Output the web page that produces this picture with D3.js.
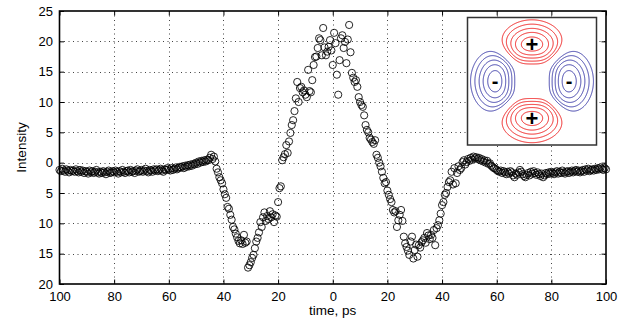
<!DOCTYPE html>
<html>
<head>
<meta charset="utf-8">
<script src="https://cdn.jsdelivr.net/npm/d3@7"></script>
<style>
  html, body { margin: 0; padding: 0; background: #fff; }
  svg { display: block; font-family: "Liberation Sans", Arial, Helvetica, sans-serif; }
</style>
</head>
<body>
<svg id="chart" width="630" height="325"></svg>
<script>
// tick values and the labels as printed (minus signs are missing in the original figure)
const xTicks = [-100, -80, -60, -40, -20, 0, 20, 40, 60, 80, 100];
const xTickLabels = ['100', '80', '60', '40', '20', '0', '20', '40', '60', '80', '100'];
const yTicks = [-20, -15, -10, -5, 0, 5, 10, 15, 20, 25];
const yTickLabels = ['20', '15', '10', '5', '0', '5', '10', '15', '20', '25'];

// samples every 0.5 ps from -100 ps
const timeStart = -100;
const timeStep = 0.5;
const intensity = [
  -1.2,-1.4,-1.0,-1.3,-1.5,-1.1,-1.3,-1.6,-1.2,-1.4,
  -1.3,-1.5,-1.1,-1.4,-1.6,-1.2,-1.5,-1.3,-1.7,-1.4,
  -1.5,-1.8,-1.3,-1.6,-1.4,-1.7,-1.5,-1.2,-1.6,-1.8,
  -1.5,-1.7,-1.4,-1.6,-1.9,-1.5,-1.3,-1.7,-1.6,-1.4,
  -1.6,-1.3,-1.5,-1.8,-1.4,-1.6,-1.2,-1.5,-1.7,-1.4,
  -1.3,-1.6,-1.2,-1.5,-1.4,-1.7,-1.3,-1.1,-1.5,-1.4,
  -1.2,-1.5,-1.3,-1.0,-1.4,-1.6,-1.2,-1.3,-1.5,-1.1,
  -1.3,-1.1,-1.4,-1.2,-1.0,-1.3,-1.5,-1.1,-1.2,-0.9,
  -1.1,-1.3,-0.9,-1.2,-1.0,-0.8,-1.1,-0.9,-0.7,
  -0.8,-0.6,-0.9,-0.5,-0.7,-0.4,-0.6,-0.3,-0.5,-0.2,
  -0.3,0.0,-0.2,0.2,0.0,0.3,0.1,0.4,0.2,0.5,
  0.4,0.8,1.3,0.6,1.0,
  0.2,-1.0,-1.6,-2.4,-2.9,-3.4,-4.4,-5.2,-5.8,-7.3,
  -7.6,-8.6,-9.4,-10.6,-11.0,-11.7,-12.3,-12.9,-13.3,-12.8,
  -13.4,-11.9,-13.2,-13.0,
  -17.3,-16.9,-16.4,-15.7,-15.2,-14.1,-13.0,-12.4,-11.5,-9.8,
  -10.6,-9.0,-8.2,-9.6,-8.8,-9.3,-8.0,-9.0,-8.5,-9.8,
  -8.7,-8.9,
  -6.5,-4.2,-3.9,0.4,0.9,1.4,2.9,1.6,3.5,4.9,
  6.2,7.0,8.5,10.6,13.3,10.0,12.3,12.5,11.6,11.9,
  11.2,10.8,15.3,11.8,11.6,13.6,16.1,17.4,17.5,18.9,
  20.5,20.2,17.7,22.2,19.0,17.7,18.3,19.1,20.2,18.5,
  16.1,21.4,19.7,14.5,11.2,16.9,20.5,21.0,18.9,19.9,
  16.4,20.3,22.7,18.2,14.8,14.0,13.3,13.6,12.5,10.8,
  10.0,9.5,9.2,7.8,6.2,5.4,5.0,4.1,3.8,3.4,
  3.1,3.7,1.3,0.8,0.0,-0.6,-1.5,-2.5,-3.4,-3.2,
  -4.6,-5.3,-6.0,-6.5,-7.8,-8.2,-8.0,-10.6,-9.5,-8.6,
  -7.8,-9.6,-12.2,-13.3,-13.9,-14.5,-15.2,-13.0,-12.2,-15.8,
  -14.4,-13.5,-15.5,-13.6,-14.0,-13.1,-12.8,-12.4,-13.2,-11.6,
  -12.0,-12.6,-11.9,-12.4,-11.1,-13.6,-10.8,-10.3,-9.5,-8.4,
  -7.0,-6.5,-5.3,-5.0,-4.0,-3.2,-2.9,-1.5,-3.6,-0.9,
  -3.4,-1.7,-0.6,-1.2,-0.9,0.1,0.4,-0.3,0.1,0.6,
  0.3,0.8,0.5,1.0,0.7,0.9,0.6,0.8,0.4,0.6,
  0.2,0.4,0.0,0.3,-0.2,-0.1,-0.5,-0.7,-0.9,-1.0,
  -1.2,-1.4,
  -1.5,-1.3,-1.7,-1.4,-1.6,-1.9,-1.5,-1.8,-1.4,-1.6,
  -2.1,-2.4,-1.8,-2.0,-1.6,-1.2,-1.5,-1.9,-2.2,-2.4,
  -2.0,-1.7,-2.1,-1.5,-1.8,-1.4,-1.7,-2.0,-1.6,-1.9,
  -2.2,-1.8,-2.4,-2.1,-1.7,-1.9,-1.6,-1.8,-1.5,-1.7,
  -1.9,-1.6,-1.4,-1.8,-1.5,-1.7,-1.3,-1.6,-1.8,-1.5,
  -1.4,-1.7,-1.5,-1.3,-1.6,-1.4,-1.2,-1.5,-1.3,-1.6,
  -1.4,-1.2,-1.5,-1.1,-1.3,-1.0,-1.4,-1.2,-1.1,-1.3,
  -1.0,-1.2,-0.9,-1.1,-0.8,-1.0,-1.2,-0.9,-1.1
];
const timePs = intensity.map((_, i) => timeStart + i * timeStep);

// inset: contour levels of the four-lobe pattern
const lobeLevels = [0.175, 0.22, 0.265, 0.305, 0.342];
const lobeSigns = [
  { label: '+', u: 0, v: 1 },
  { label: '+', u: 0, v: -1 },
  { label: '-', u: -1, v: 0 },
  { label: '-', u: 1, v: 0 }
];

const svg = d3.select('#chart');
const margin = { top: 11, right: 24, bottom: 41, left: 59.5 };
const width = 630, height = 325;
const x0 = margin.left, x1 = width - margin.right;
const y0 = height - margin.bottom, y1 = margin.top;

const x = d3.scaleLinear().domain([-100, 100]).range([x0, x1]);
const y = d3.scaleLinear().domain([-20, 25]).range([y0, y1]);

// dotted grid
const grid = svg.append('g').attr('stroke', '#444').attr('stroke-width', 1)
  .attr('stroke-dasharray', '1,3.5');
grid.selectAll('line.gx').data(xTicks.slice(1, -1)).join('line')
  .attr('x1', d => Math.round(x(d)) + 0.5).attr('x2', d => Math.round(x(d)) + 0.5)
  .attr('y1', y1).attr('y2', y0);
grid.selectAll('line.gy').data(yTicks.slice(1, -1)).join('line')
  .attr('y1', d => Math.round(y(d)) + 0.5).attr('y2', d => Math.round(y(d)) + 0.5)
  .attr('x1', x0).attr('x2', x1);

// data points
svg.append('g').selectAll('circle')
  .data(intensity)
  .join('circle')
  .attr('cx', (d, i) => x(timePs[i]))
  .attr('cy', d => y(d))
  .attr('r', 3.6)
  .attr('fill', 'none')
  .attr('stroke', '#000')
  .attr('stroke-width', 0.85);

// axes, ticks inside
const tick = 4.5;
const xAxis = svg.append('g').attr('transform', `translate(0,${y0})`)
  .call(d3.axisBottom(x).tickValues(xTicks).tickSize(-tick).tickPadding(8)
    .tickFormat((d, i) => xTickLabels[i]));
const yAxis = svg.append('g').attr('transform', `translate(${x0},0)`)
  .call(d3.axisLeft(y).tickValues(yTicks).tickSize(-tick).tickPadding(6.5)
    .tickFormat((d, i) => yTickLabels[i]));
const xTop = svg.append('g').attr('transform', `translate(0,${y1})`)
  .call(d3.axisTop(x).tickValues(xTicks).tickSize(-tick).tickFormat(''));
const yRight = svg.append('g').attr('transform', `translate(${x1},0)`)
  .call(d3.axisRight(y).tickValues(yTicks).tickSize(-tick).tickFormat(''));

[xAxis, yAxis, xTop, yRight].forEach(g => {
  g.select('.domain').remove();
  g.selectAll('.tick line').attr('stroke', '#000').attr('stroke-width', 1);
  g.selectAll('.tick text').attr('fill', '#000').style('font-size', '13px')
    .style('font-family', '"Liberation Sans", Arial, sans-serif');
});

svg.append('rect')
  .attr('x', x0).attr('y', y1)
  .attr('width', x1 - x0).attr('height', y0 - y1)
  .attr('fill', 'none').attr('stroke', '#000').attr('stroke-width', 1.6);

// axis titles
svg.append('text')
  .attr('x', (x0 + x1) / 2).attr('y', 315)
  .attr('text-anchor', 'middle')
  .style('font-size', '13.5px')
  .text('time, ps');

svg.append('text')
  .attr('transform', `translate(26,${(y0 + y1) / 2}) rotate(-90)`)
  .attr('text-anchor', 'middle')
  .style('font-size', '13.5px')
  .text('Intensity');

// inset
const inset = { x: 467.5, y: 17.5, w: 129, h: 127.5 };
const unit = 37;
const res = 2;
const nx = Math.round(inset.w * res), ny = Math.round(inset.h * res);
const pos = new Array(nx * ny), neg = new Array(nx * ny);
for (let j = 0; j < ny; j++) {
  for (let i = 0; i < nx; i++) {
    const u = ((i + 0.5) / res - inset.w / 2) / unit;
    const v = (inset.h / 2 - (j + 0.5) / res) / unit;
    const r2 = u * u + v * v;
    const c = r2 > 0 ? (v * v - u * u) / r2 : 0;
    const f = r2 * Math.exp(-r2) * Math.sign(c) * Math.pow(Math.abs(c), 0.42);
    pos[j * nx + i] = Math.max(f, 0);
    neg[j * nx + i] = Math.max(-f, 0);
  }
}

const insetG = svg.append('g').attr('transform', `translate(${inset.x},${inset.y})`);
insetG.append('rect')
  .attr('width', inset.w).attr('height', inset.h)
  .attr('fill', '#fff').attr('stroke', '#333').attr('stroke-width', 1.5);

const contours = d3.contours().size([nx, ny]).thresholds(lobeLevels);
const path = d3.geoPath(d3.geoIdentity().scale(1 / res));
insetG.append('g').selectAll('path').data(contours(pos)).join('path')
  .attr('d', path).attr('fill', 'none').attr('stroke', '#f01818').attr('stroke-width', 1);
insetG.append('g').selectAll('path').data(contours(neg)).join('path')
  .attr('d', path).attr('fill', 'none').attr('stroke', '#3838a8').attr('stroke-width', 1);

insetG.selectAll('text.sign').data(lobeSigns).join('text')
  .attr('class', 'sign')
  .attr('x', d => inset.w / 2 + d.u * unit)
  .attr('y', d => inset.h / 2 - d.v * unit)
  .attr('dy', d => d.label === '+' ? '0.36em' : '0.33em')
  .attr('text-anchor', 'middle')
  .style('font-weight', 'bold')
  .style('font-size', d => d.label === '+' ? '22px' : '20px')
  .text(d => d.label);
</script>
</body>
</html>
